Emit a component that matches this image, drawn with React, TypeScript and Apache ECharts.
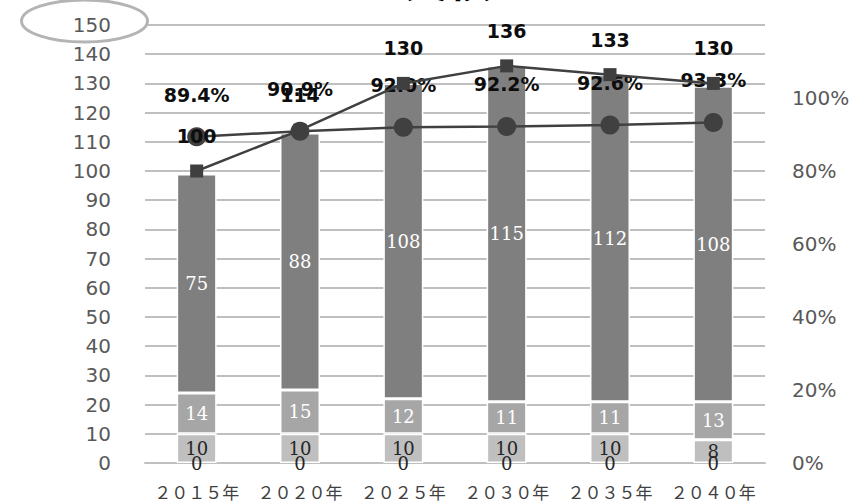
import React, { useEffect, useRef } from "react";
import * as echarts from "echarts";

const categories = ["２０１５年", "２０２０年", "２０２５年", "２０３０年", "２０３５年", "２０４０年"];
const zeroValues = [0, 0, 0, 0, 0, 0];
const bottomValues = [10, 10, 10, 10, 10, 8];
const middleValues = [14, 15, 12, 11, 11, 13];
const topValues = [75, 88, 108, 115, 112, 108];
const totalValues = [100, 114, 130, 136, 133, 130];
const ratioValues = [0.894, 0.909, 0.92, 0.922, 0.926, 0.933];
const titleText = "実績";

export default function App() {
  const ref = useRef<HTMLDivElement>(null);
  useEffect(() => {
    if (!ref.current) return;
    const chart = echarts.init(ref.current, undefined, { renderer: "svg" });
    const serifLabel = { fontFamily: "DejaVu Serif", fontSize: 18 };
    const barBase = {
      type: "bar",
      stack: "total",
      barWidth: 40,
      yAxisIndex: 0,
      itemStyle: { borderColor: "#ffffff", borderWidth: 1.5 },
    };
    chart.setOption({
      animation: false,
      backgroundColor: "#ffffff",
      textStyle: { fontFamily: "DejaVu Sans" },
      grid: { left: 145, right: 103, top: 25, bottom: 41, containLabel: false },
      graphic: [
        {
          type: "text",
          x: 448,
          y: 0,
          style: {
            text: titleText,
            fontSize: 44,
            fontWeight: "bold",
            fontFamily: "Noto Sans CJK JP",
            fill: "#000000",
            textAlign: "center",
            textVerticalAlign: "bottom",
          },
          z: 10,
        },
        {
          type: "ellipse",
          shape: { cx: 84.5, cy: 21, rx: 63, ry: 21 },
          style: { fill: "none", stroke: "#b4b4b4", lineWidth: 3 },
          z: 10,
        },
      ],
      xAxis: {
        type: "category",
        data: categories,
        axisLine: { show: true, lineStyle: { color: "#bfbfbf", width: 2 } },
        axisTick: { show: false },
        axisLabel: {
          interval: 0,
          margin: 20,
          fontSize: 17,
          fontFamily: "Noto Sans CJK JP",
          color: "#404040",
        },
      },
      yAxis: [
        {
          type: "value",
          min: 0,
          max: 150,
          interval: 10,
          axisLine: { show: false },
          axisTick: { show: false },
          splitLine: { lineStyle: { color: "#bfbfbf", width: 2 } },
          axisLabel: { margin: 34, fontSize: 20, color: "#595959", fontFamily: "DejaVu Sans" },
        },
        {
          type: "value",
          min: 0,
          max: 1.2,
          interval: 0.2,
          axisLine: { show: false },
          axisTick: { show: false },
          splitLine: { show: false },
          axisLabel: {
            margin: 27,
            fontSize: 20,
            color: "#595959",
            fontFamily: "DejaVu Sans",
            showMaxLabel: false,
            formatter: (v: number) => Math.round(v * 100) + "%",
          },
        },
      ],
      series: [
        {
          ...barBase,
          name: "zero",
          data: zeroValues,
          itemStyle: { color: "rgba(0,0,0,0)", borderWidth: 0 },
          label: { show: true, position: "inside", color: "#262626", ...serifLabel },
          z: 3,
        },
        {
          ...barBase,
          name: "bottom",
          data: bottomValues,
          itemStyle: { color: "#bfbfbf", borderColor: "#ffffff", borderWidth: 1.5 },
          label: { show: true, position: "inside", color: "#262626", ...serifLabel },
        },
        {
          ...barBase,
          name: "middle",
          data: middleValues,
          itemStyle: { color: "#a6a6a6", borderColor: "#ffffff", borderWidth: 1.5 },
          label: { show: true, position: "inside", color: "#ffffff", ...serifLabel },
        },
        {
          ...barBase,
          name: "top",
          data: topValues,
          itemStyle: { color: "#7f7f7f", borderColor: "#ffffff", borderWidth: 1.5 },
          label: { show: true, position: "inside", color: "#ffffff", ...serifLabel },
        },
        {
          type: "line",
          name: "total",
          yAxisIndex: 0,
          data: totalValues,
          symbol: "rect",
          symbolSize: 13,
          itemStyle: { color: "#3f3f3f" },
          lineStyle: { color: "#404040", width: 2.5 },
          label: {
            show: true,
            position: "top",
            distance: 19,
            fontSize: 19,
            fontWeight: "bold",
            color: "#0d0d0d",
            fontFamily: "DejaVu Sans",
          },
          z: 5,
        },
        {
          type: "line",
          name: "ratio",
          yAxisIndex: 1,
          data: ratioValues,
          symbol: "circle",
          symbolSize: 19,
          itemStyle: { color: "#404040" },
          lineStyle: { color: "#404040", width: 2.5 },
          label: {
            show: true,
            position: "top",
            distance: 23,
            fontSize: 19,
            fontWeight: "bold",
            color: "#0d0d0d",
            fontFamily: "DejaVu Sans",
            formatter: (p: any) => (p.value * 100).toFixed(1) + "%",
          },
          z: 4,
        },
      ],
    });
    return () => chart.dispose();
  }, []);
  return (
    <div
      ref={ref}
      style={{ position: "fixed", left: 0, top: 0, width: 868, height: 504 }}
    />
  );
}
